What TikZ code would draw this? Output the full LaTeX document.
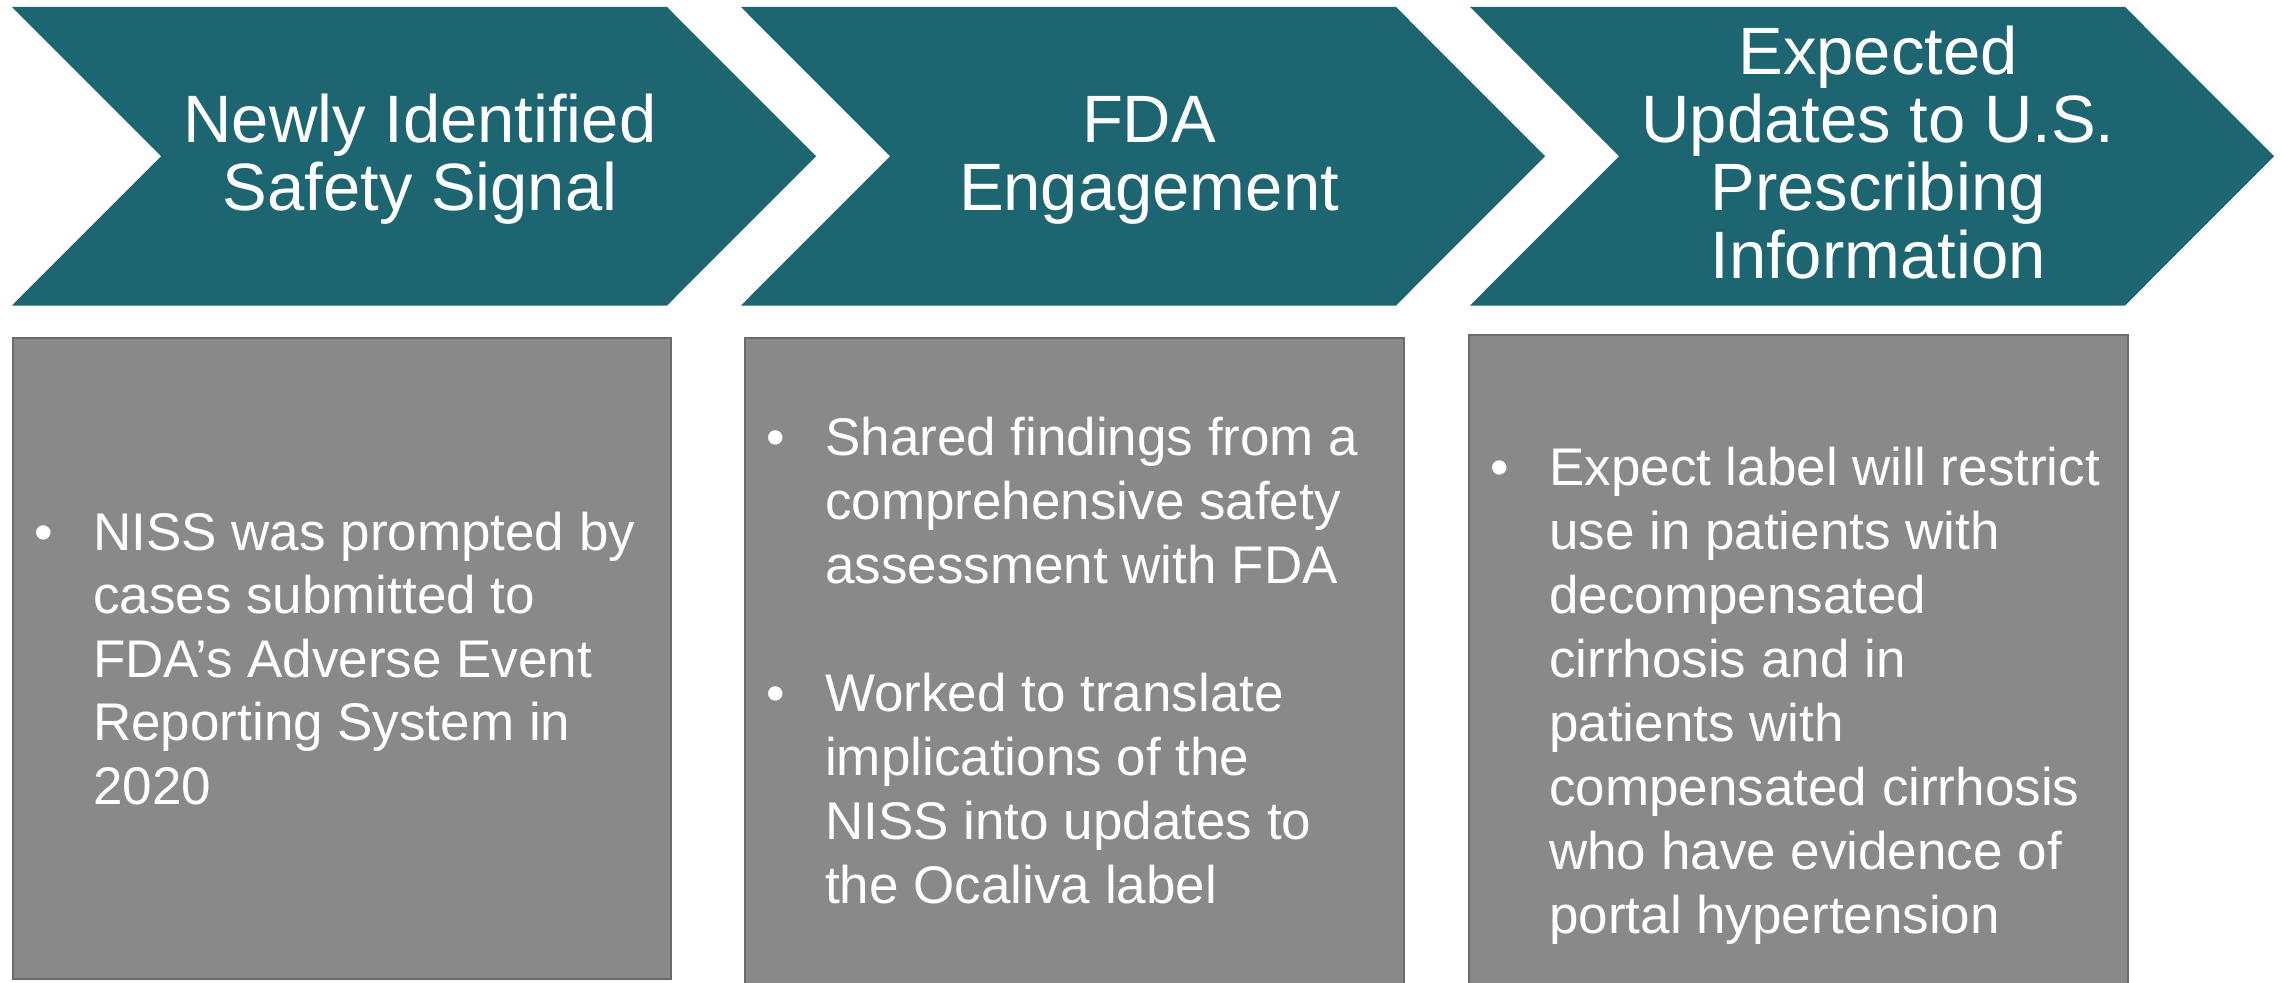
\documentclass[tikz,border=0pt]{standalone}
\usepackage{fontspec}
\setmainfont{Liberation Sans}
\definecolor{tealfill}{RGB}{29,101,112}
\definecolor{boxgray}{RGB}{137,137,137}
\definecolor{boxedge}{RGB}{107,107,107}
\begin{document}
\begin{tikzpicture}[x=1pt,y=-1pt,
  chev/.style={fill=tealfill, draw=none},
  panel/.style={fill=boxgray, draw=boxedge, line width=2pt},
  head/.style={anchor=base, inner sep=0pt, text=white, font=\fontsize{67}{68}\selectfont},
  body/.style={anchor=base west, inner sep=0pt, text=white, font=\fontsize{53}{64}\selectfont},
  bodyA/.style={body, font=\fontsize{53}{63.5}\selectfont},
  bul/.style={anchor=base west, inner sep=0pt, text=white, font=\fontsize{53}{64}\selectfont}
]
\useasboundingbox (0,0) rectangle (2282,982);
\fill[white] (0,0) rectangle (2282,982);

% chevrons
\foreach \L in {12,741,1470}{
  \fill[chev] (\L,7) -- (\L+655,7) -- (\L+804,156.25) -- (\L+655,305.5)
    -- (\L,305.5) -- (\L+149,156.25) -- cycle;
}

% panels
\draw[panel] (13,338) rectangle (671,979);
\draw[panel] (745,338) rectangle (1404,986);
\draw[panel] (1469,335) rectangle (2128,986);

% headings
\node[head] (h1) at (420,142.5) {\parbox[t]{620pt}{\centering Newly Identified\\Safety Signal}};
\node[head] (h2) at (1149,142.5) {\parbox[t]{620pt}{\centering FDA\\Engagement}};
\node[head] (h3) at (1878,74.5) {\parbox[t]{620pt}{\centering Expected\\Updates to U.S.\\Prescribing\\Information}};

% panel 1
\node[bul] (d1) at (34,550) {•};
\node[bodyA] (t1) at (93,550) {\parbox[t]{570pt}{\raggedright NISS was prompted by\\cases submitted to\\FDA’s Adverse Event\\Reporting System in\\2020}};

% panel 2
\node[bul] (d2a) at (766,455) {•};
\node[body] (t2a) at (825,455) {\parbox[t]{570pt}{\raggedright Shared findings from a\\comprehensive safety\\assessment with FDA}};
\node[bul] (d2b) at (766,711) {•};
\node[body] (t2b) at (825,711) {\parbox[t]{570pt}{\raggedright Worked to translate\\implications of the\\NISS into updates to\\the Ocaliva label}};

% panel 3
\node[bul] (d3) at (1490,485) {•};
\node[body] (t3) at (1549,485) {\parbox[t]{570pt}{\raggedright Expect label will restrict\\use in patients with\\decompensated\\cirrhosis and in\\patients with\\compensated cirrhosis\\who have evidence of\\portal hypertension}};
\end{tikzpicture}
\end{document}
